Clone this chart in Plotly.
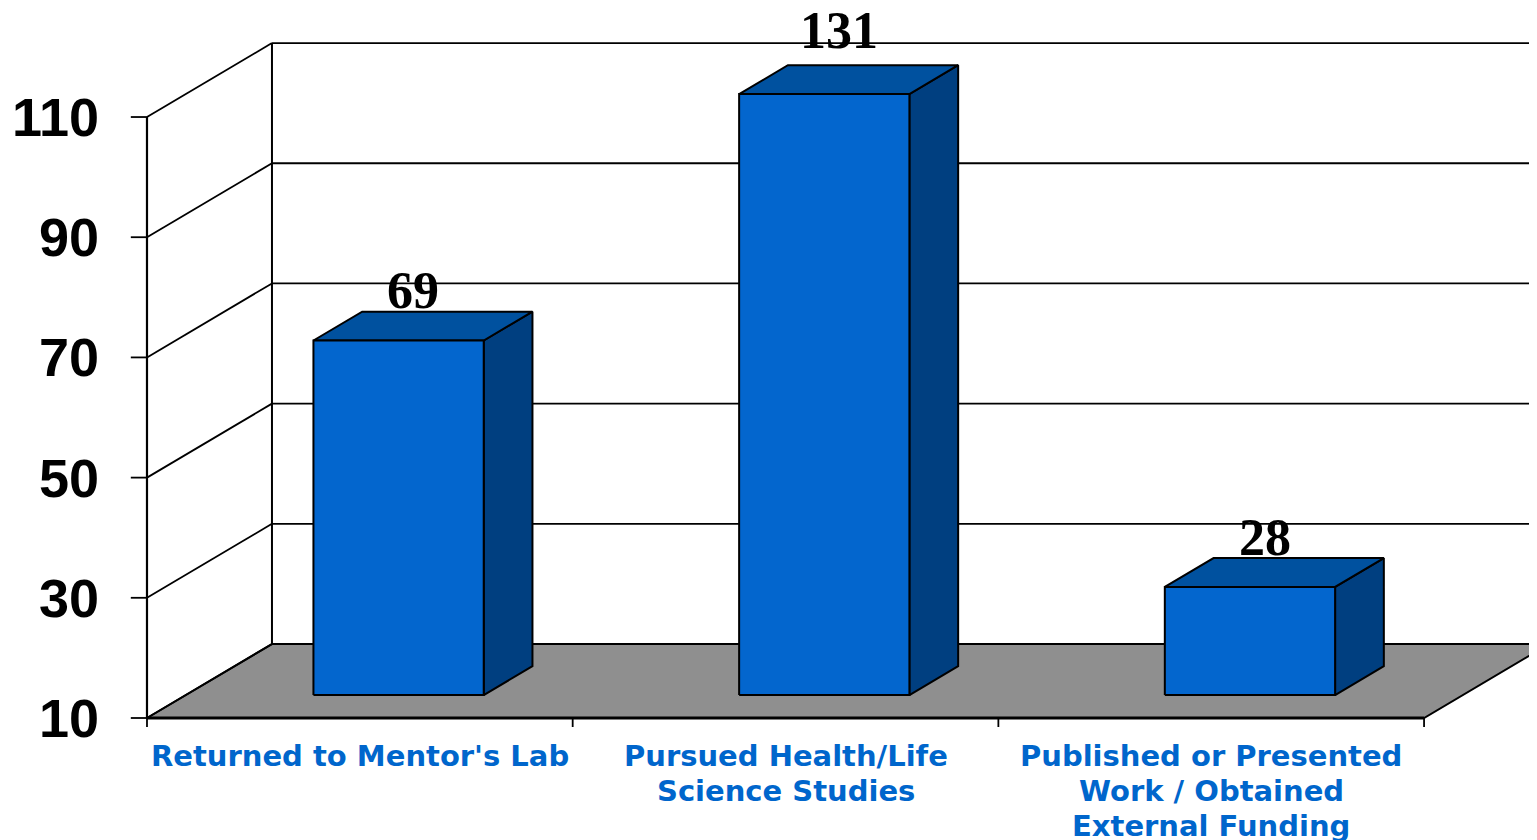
import plotly.graph_objects as go

# ---------------- data ----------------
categories = ["Returned to Mentor's Lab",
              "Pursued Health/Life<br>Science Studies",
              "Published or Presented<br>Work / Obtained<br>External Funding"]
values = [69, 131, 28]
y_ticks = [10, 30, 50, 70, 90, 110]
y_tick_labels = ["10", "30", "50", "70", "90", "110"]

# ---------------- styling / projection ----------------
Y_MIN, Y_MAX = 10, 110
DX = 0.2936      # x shift (category units) per unit of depth
DY = 12.31       # y shift (value units) per unit of depth
D_FRONT, D_BACK = 0.31, 0.70   # bar depth extent
HALF_W = 0.2                   # half bar width (category units)
FRONT_C, TOP_C, SIDE_C = "#0366CE", "#00519F", "#003F80"
FLOOR_C = "#8F8F8F"
N = len(categories)


def P(c, v, d):
    """oblique projection of (category, value, depth) into the axes' data space"""
    return c + d * DX, v + d * DY


fig = go.Figure()


def poly(pts, fill=None, width=2, color="black"):
    xs = [p[0] for p in pts]
    ys = [p[1] for p in pts]
    if fill:
        xs.append(xs[0]); ys.append(ys[0])
        fig.add_trace(go.Scatter(x=xs, y=ys, mode="lines", fill="toself",
                                 fillcolor=fill, line=dict(color=color, width=width),
                                 hoverinfo="skip"))
    else:
        fig.add_trace(go.Scatter(x=xs, y=ys, mode="lines",
                                 line=dict(color=color, width=width),
                                 hoverinfo="skip"))


# floor
poly([P(0, Y_MIN, 0), P(N, Y_MIN, 0), P(N, Y_MIN, 1), P(0, Y_MIN, 1)], fill=FLOOR_C, width=2)

# back wall gridlines and left-wall diagonals
for t in y_ticks:
    poly([P(0, t, 1), P(N + 0.2, t, 1)], width=1.8)
    poly([P(0, t, 0), P(0, t, 1)], width=1.8)
poly([P(0, Y_MIN, 1), P(0, Y_MAX, 1)], width=2)

# front value axis with ticks
poly([P(0, Y_MIN, 0), P(0, Y_MAX, 0)], width=2.2)
TICK_X = 0.038
for t in y_ticks:
    poly([(-TICK_X, t), P(0, t, 0)], width=1.8)

# category axis line and boundary ticks
poly([P(0, Y_MIN, 0), P(N, Y_MIN, 0)], width=2.8)
TICK_Y = 1.5
for i in range(N + 1):
    poly([(i, Y_MIN), (i, Y_MIN - TICK_Y)], width=1.8)

# bars
for i, v in enumerate(values):
    vt = min(v, Y_MAX)
    l, r = i + 0.5 - HALF_W, i + 0.5 + HALF_W
    # side face
    poly([P(r, Y_MIN, D_FRONT), P(r, Y_MIN, D_BACK), P(r, vt, D_BACK), P(r, vt, D_FRONT)], fill=SIDE_C)
    # top face
    poly([P(l, vt, D_FRONT), P(r, vt, D_FRONT), P(r, vt, D_BACK), P(l, vt, D_BACK)], fill=TOP_C)
    # front face
    poly([P(l, Y_MIN, D_FRONT), P(r, Y_MIN, D_FRONT), P(r, vt, D_FRONT), P(l, vt, D_FRONT)], fill=FRONT_C)
    # value label (a clipped bar gets its label lifted a bit further)
    lx, ly = P(i + 0.5, vt, D_BACK)
    fig.add_annotation(x=lx - 0.08, y=ly, text=str(v), showarrow=False,
                       yanchor="middle", yshift=21 + (14 if v > Y_MAX else 0),
                       font=dict(family="Times New Roman, Liberation Serif", size=52,
                                 color="black", weight="bold"))

# y tick labels
for t, lab in zip(y_ticks, y_tick_labels):
    fig.add_annotation(x=0, y=t, text=lab, showarrow=False, xanchor="right",
                       yanchor="middle", xshift=-46,
                       font=dict(family="Arial, Liberation Sans", size=54,
                                 color="black", weight="bold"))

# category labels (one annotation per line for exact line spacing)
LINE_GAP = 35
for i, cat in enumerate(categories):
    for k, line in enumerate(cat.split("<br>")):
        fig.add_annotation(x=i + 0.5, y=Y_MIN, text=line, showarrow=False,
                           xanchor="center", yanchor="middle",
                           yshift=-38 - k * LINE_GAP,
                           font=dict(family="Verdana, DejaVu Sans", size=29,
                                     color="#0066CC", weight="bold"))

# the page body adds an 8px margin, so the figure is sized to the remaining area
fig.update_layout(
    width=1529, height=832,
    margin=dict(l=0, r=0, t=0, b=0),
    paper_bgcolor="white", plot_bgcolor="white",
    showlegend=False,
    xaxis=dict(visible=False, range=[-0.3265, 3.2653], fixedrange=True),
    yaxis=dict(visible=False, range=[-10.30, 128.14], fixedrange=True),
)

fig.write_html("out.html")
